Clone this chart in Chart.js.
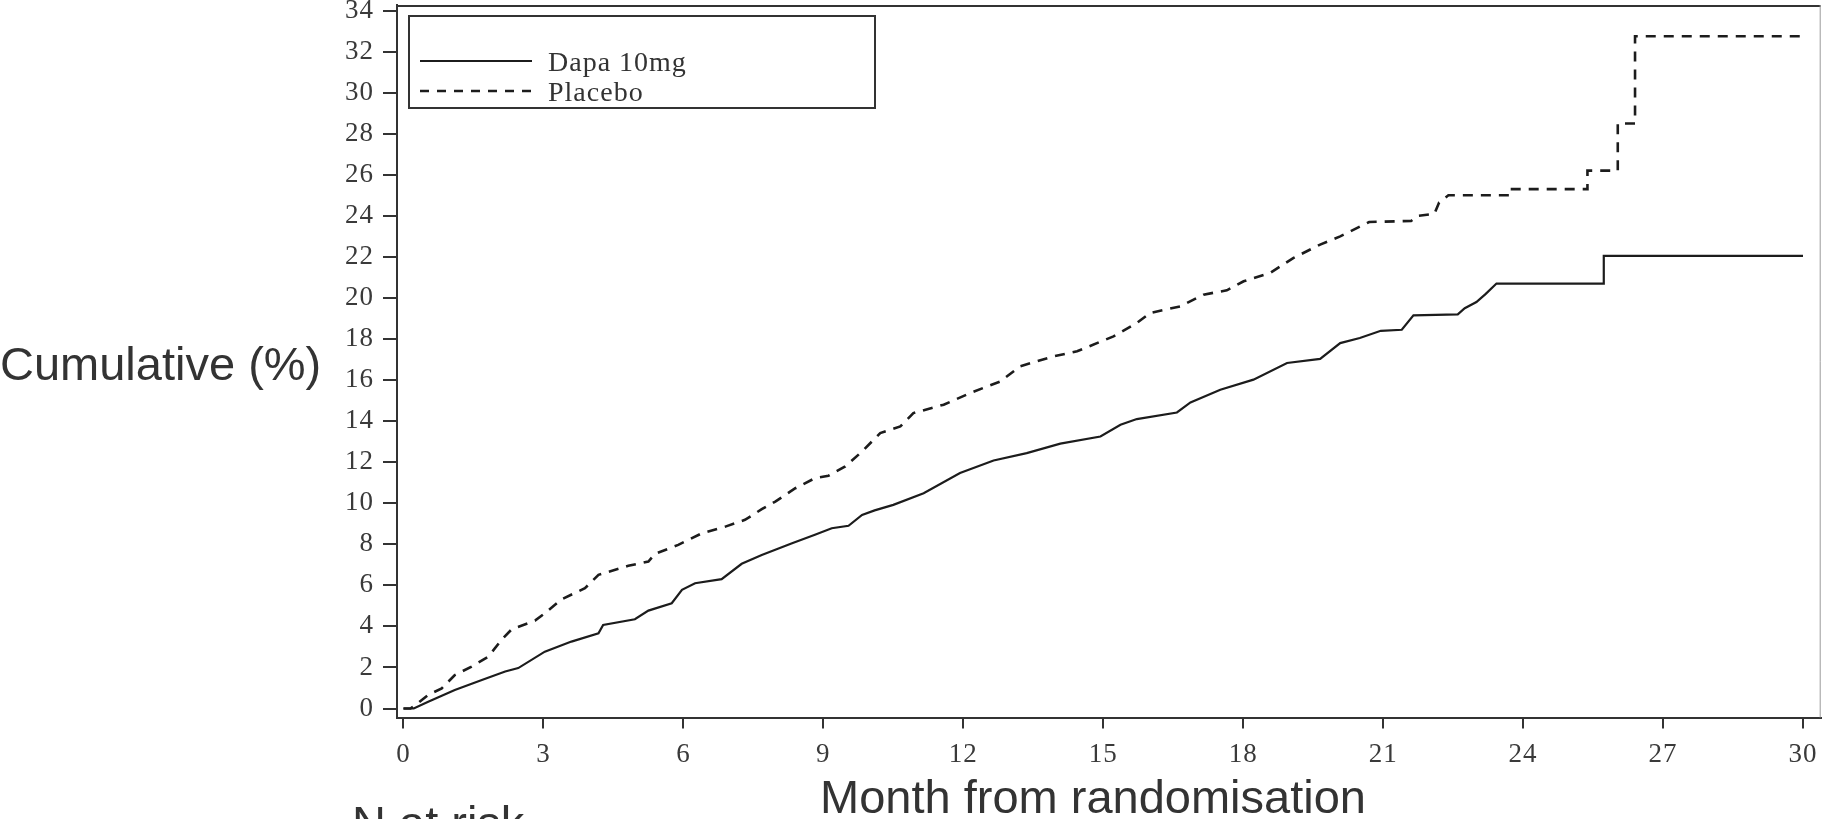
<!DOCTYPE html>
<html>
<head>
<meta charset="utf-8">
<script src="https://cdn.jsdelivr.net/npm/chart.js@4.4.0/dist/chart.umd.min.js"></script>
<style>
html,body{margin:0;padding:0;background:#ffffff;overflow:hidden;}
#wrap{width:1824px;height:819px;position:relative;}
</style>
</head>
<body>
<div id="wrap"><canvas id="c" width="1824" height="819"></canvas></div>
<script>
// ---- data ----
const xTickValues = [0, 3, 6, 9, 12, 15, 18, 21, 24, 27, 30];
const yTickValues = [0, 2, 4, 6, 8, 10, 12, 14, 16, 18, 20, 22, 24, 26, 28, 30, 32, 34];
const seriesNames = ['Dapa 10mg', 'Placebo'];
const xTitle = 'Month from randomisation';
const yTitle = 'Cumulative (%)';
const riskLabel = 'N at risk';

const dapaMonths = [0, 0.22, 0.53, 1.1, 1.68, 2.18, 2.46, 3.03, 3.6, 4.18, 4.28, 4.96, 5.25, 5.75, 5.97, 6.25, 6.82, 7.25, 7.68, 7.97, 8.33, 8.82, 9.18, 9.54, 9.83, 10.1, 10.5, 11.15, 11.93, 12.65, 13.36, 14.08, 14.94, 15.37, 15.72, 16.58, 16.87, 17.51, 18.22, 18.94, 19.65, 20.08, 20.5, 20.95, 21.4, 21.65, 22.6, 22.75, 23.0, 23.2, 23.43, 25.73, 25.73, 30];
const dapaPct = [0, 0, 0.33, 0.9, 1.39, 1.8, 1.97, 2.77, 3.26, 3.66, 4.07, 4.35, 4.77, 5.13, 5.78, 6.1, 6.3, 7.05, 7.48, 7.73, 8.05, 8.46, 8.78, 8.9, 9.43, 9.65, 9.92, 10.49, 11.47, 12.08, 12.44, 12.9, 13.25, 13.82, 14.1, 14.42, 14.91, 15.53, 16.02, 16.83, 17.03, 17.8, 18.05, 18.4, 18.45, 19.15, 19.2, 19.5, 19.8, 20.2, 20.7, 20.7, 22.05, 22.05];

const placeboMonths = [0, 0.15, 0.31, 0.53, 0.82, 1.1, 1.46, 1.82, 2.1, 2.32, 2.82, 3.03, 3.39, 3.89, 4.18, 4.82, 5.25, 5.39, 5.89, 6.4, 6.9, 7.32, 7.68, 7.97, 8.4, 8.82, 9.11, 9.47, 9.83, 10.22, 10.65, 10.93, 11.58, 12.15, 12.79, 13.22, 13.93, 14.44, 15.22, 15.72, 16.01, 16.65, 17.15, 17.65, 18.01, 18.58, 19.08, 19.65, 20.08, 20.7, 21.6, 21.75, 22.1, 22.2, 22.4, 23.7, 23.7, 25.38, 25.38, 26.03, 26.03, 26.4, 26.4, 30];
const placeboPct = [0, 0, 0.27, 0.66, 0.98, 1.63, 2.04, 2.53, 3.34, 3.86, 4.28, 4.64, 5.32, 5.86, 6.51, 6.95, 7.16, 7.53, 7.97, 8.54, 8.86, 9.19, 9.71, 10.08, 10.73, 11.22, 11.34, 11.79, 12.52, 13.42, 13.74, 14.39, 14.8, 15.37, 15.93, 16.67, 17.15, 17.4, 18.13, 18.78, 19.27, 19.59, 20.16, 20.37, 20.81, 21.22, 21.95, 22.6, 23.0, 23.7, 23.75, 24.0, 24.1, 24.65, 25.0, 25.0, 25.3, 25.3, 26.2, 26.2, 28.5, 28.5, 32.75, 32.75];

// ---- chart ----
const ink = '#1c1c1c';
const axisInk = '#333333';
const tickFont = { family: '"Liberation Serif", "Times New Roman", serif', size: 27 };

function toPoints(xs, ys) { return xs.map((x, i) => ({ x: x, y: ys[i] })); }

const spacingPlugin = {
  id: 'spacing',
  beforeDraw(chart) { chart.ctx.letterSpacing = '1px'; }
};

const framePlugin = {
  id: 'frame',
  afterDraw(chart) {
    const ctx = chart.ctx, a = chart.chartArea;
    ctx.save();
    ctx.strokeStyle = axisInk; ctx.lineWidth = 2;
    ctx.beginPath(); ctx.moveTo(a.left, a.top + 1); ctx.lineTo(a.right, a.top + 1); ctx.stroke();
    ctx.strokeStyle = '#9a9a9a'; ctx.lineWidth = 1;
    ctx.beginPath(); ctx.moveTo(a.right - 0.5, a.top); ctx.lineTo(a.right - 0.5, a.bottom); ctx.stroke();
    ctx.restore();
  }
};

const legendBoxPlugin = {
  id: 'legendBox',
  afterDraw(chart) {
    const ctx = chart.ctx;
    const box = { x: 409, y: 16, w: 466, h: 92 };
    ctx.save();
    ctx.fillStyle = '#ffffff';
    ctx.fillRect(box.x, box.y, box.w, box.h);
    ctx.strokeStyle = axisInk; ctx.lineWidth = 2;
    ctx.strokeRect(box.x, box.y, box.w, box.h);
    const rows = [61, 91];
    chart.data.datasets.forEach((ds, i) => {
      const y = rows[i];
      ctx.strokeStyle = ds.borderColor;
      ctx.lineWidth = ds.borderWidth;
      ctx.setLineDash(ds.borderDash ? [9, 8] : []);
      ctx.beginPath(); ctx.moveTo(420, y); ctx.lineTo(532, y); ctx.stroke();
      ctx.setLineDash([]);
      ctx.fillStyle = axisInk;
      ctx.font = '28px "Liberation Serif", "Times New Roman", serif';
      ctx.letterSpacing = '1px';
      ctx.textBaseline = 'alphabetic';
      ctx.textAlign = 'left';
      ctx.fillText(ds.label, 548, y + 10);
    });
    ctx.restore();
  }
};

const titlesPlugin = {
  id: 'titles',
  afterDraw(chart) {
    const ctx = chart.ctx;
    ctx.save();
    ctx.letterSpacing = '0px';
    ctx.fillStyle = '#333333';
    ctx.font = '47px "Liberation Sans", Arial, sans-serif';
    ctx.textBaseline = 'alphabetic';
    ctx.textAlign = 'left';
    ctx.fillText(yTitle, 0, 380);
    ctx.textAlign = 'center';
    ctx.fillText(xTitle, 1093, 813);
    ctx.textAlign = 'left';
    ctx.fillText(riskLabel, 352, 839);
    ctx.restore();
  }
};

new Chart(document.getElementById('c'), {
  type: 'line',
  data: {
    datasets: [
      {
        label: seriesNames[0],
        data: toPoints(dapaMonths, dapaPct),
        borderColor: ink,
        borderWidth: 2.2,
        pointRadius: 0,
        tension: 0,
        fill: false
      },
      {
        label: seriesNames[1],
        data: toPoints(placeboMonths, placeboPct),
        borderColor: ink,
        borderWidth: 2.6,
        borderDash: [10, 8],
        pointRadius: 0,
        tension: 0,
        fill: false
      }
    ]
  },
  options: {
    responsive: false,
    devicePixelRatio: 1,
    animation: false,
    events: [],
    layout: { padding: { left: 0, right: 3.3, top: 5, bottom: 0 } },
    plugins: { legend: { display: false }, tooltip: { enabled: false }, title: { display: false } },
    scales: {
      x: {
        type: 'linear',
        position: 'bottom',
        min: -0.139,
        max: 30.38,
        afterBuildTicks: s => { s.ticks = xTickValues.map(v => ({ value: v })); },
        afterFit: s => { s.height = 101.5; s.paddingLeft = 0; s.paddingRight = 0; },
        ticks: { font: tickFont, color: '#3a3a3a', padding: 10, maxRotation: 0, autoSkip: false },
        grid: { drawOnChartArea: false, drawTicks: true, tickLength: 11, color: axisInk, lineWidth: 2 },
        border: { display: true, color: axisInk, width: 2 }
      },
      y: {
        type: 'linear',
        position: 'left',
        min: -0.438,
        max: 34.27,
        afterBuildTicks: s => { s.ticks = yTickValues.map(v => ({ value: v })); },
        afterFit: s => { s.width = 397; s.paddingTop = 0; s.paddingBottom = 0; },
        ticks: { font: tickFont, color: '#3a3a3a', padding: 9 },
        grid: { drawOnChartArea: false, drawTicks: true, tickLength: 14, color: axisInk, lineWidth: 2 },
        border: { display: true, color: axisInk, width: 2 }
      }
    }
  },
  plugins: [spacingPlugin, framePlugin, legendBoxPlugin, titlesPlugin]
});
</script>
</body>
</html>
